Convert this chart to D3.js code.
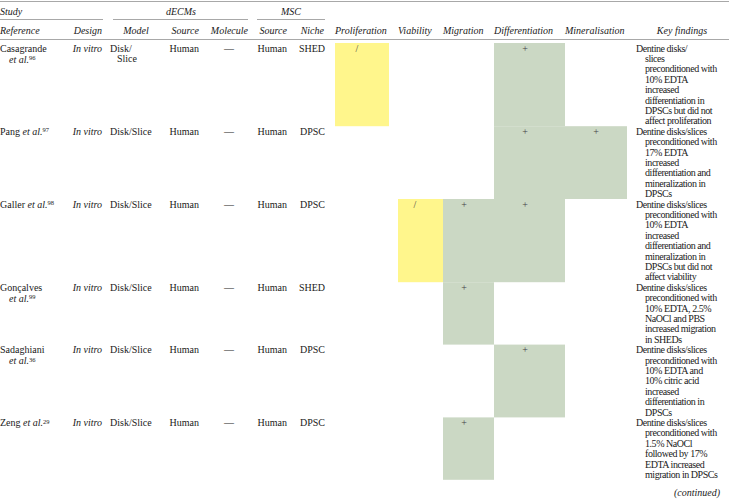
<!DOCTYPE html>
<html>
<head>
<meta charset="utf-8">
<script src="https://cdn.jsdelivr.net/npm/d3@7/dist/d3.min.js"></script>
<style>
  body { margin: 0; background: #fff; }
  svg text { font-family: "Liberation Serif", "Times New Roman", serif; font-size: 10px; fill: #1a1a1a; }
  .it { font-style: italic; }
</style>
</head>
<body>
<div id="chart"></div>
<script>
// table data
var refNames = ['Casagrande', 'Pang', 'Galler', 'Gonçalves', 'Sadaghiani', 'Zeng'],
    refNums = ['96', '97', '98', '99', '36', '29'],
    refWrap = [true, false, false, true, true, false],
    designs = ['In vitro', 'In vitro', 'In vitro', 'In vitro', 'In vitro', 'In vitro'],
    models = [['Disk/', 'Slice'], ['Disk/Slice'], ['Disk/Slice'], ['Disk/Slice'], ['Disk/Slice'], ['Disk/Slice']],
    decmSources = ['Human', 'Human', 'Human', 'Human', 'Human', 'Human'],
    molecules = ['—', '—', '—', '—', '—', '—'],
    mscSources = ['Human', 'Human', 'Human', 'Human', 'Human', 'Human'],
    niches = ['SHED', 'DPSC', 'DPSC', 'SHED', 'DPSC', 'DPSC'];

var outcomeNames = ['Proliferation', 'Viability', 'Migration', 'Differentiation', 'Mineralisation'];
var proliferation = ['/', '', '', '', '', ''],
    viability = ['', '', '/', '', '', ''],
    migration = ['', '', '+', '+', '', '+'],
    differentiation = ['+', '+', '+', '', '+', ''],
    mineralisation = ['', '+', '', '', '', ''];
var outcomes = [proliferation, viability, migration, differentiation, mineralisation];

var findings = [
  ['Dentine disks/', 'slices', 'preconditioned with', '10% EDTA', 'increased', 'differentiation in', 'DPSCs but did not', 'affect proliferation'],
  ['Dentine disks/slices', 'preconditioned with', '17% EDTA', 'increased', 'differentiation and', 'mineralization in', 'DPSCs'],
  ['Dentine disks/slices', 'preconditioned with', '10% EDTA', 'increased', 'differentiation and', 'mineralization in', 'DPSCs but did not', 'affect viability'],
  ['Dentine disks/slices', 'preconditioned with', '10% EDTA, 2.5%', 'NaOCl and PBS', 'increased migration', 'in SHEDs'],
  ['Dentine disks/slices', 'preconditioned with', '10% EDTA and', '10% citric acid', 'increased', 'differentiation in', 'DPSCs'],
  ['Dentine disks/slices', 'preconditioned with', '1.5% NaOCl', 'followed by 17%', 'EDTA increased', 'migration in DPSCs']
];

var width = 729, height = 501,
    lineH = 10.4, tableTop = 43;

// row tops from line counts
var starts = [0];
findings.forEach(function(f, i){ starts.push(starts[i] + f.length); });
var y = d3.scaleLinear().domain([0, starts[starts.length - 1]])
          .range([tableTop, tableTop + starts[starts.length - 1] * lineH]);

// column extents of the coloured outcome cells and their symbol x
var cellX = [[335, 389], [398, 443], [443, 494], [494, 565], [565, 627]],
    symX = [357, 415, 464, 525, 596],
    fills = { '/': '#fff68c', '+': '#cbd8c4' };

var svg = d3.select('#chart').append('svg')
    .attr('width', width)
    .attr('height', height);

// coloured cells
outcomes.forEach(function(col, c){
  var g = svg.append('g'),
      marks = col.map(function(v, i){ return { v: v, i: i }; }).filter(function(d){ return d.v; });
  g.selectAll('rect')
    .data(marks)
    .enter()
    .append('rect')
    .attr('x', cellX[c][0])
    .attr('width', cellX[c][1] - cellX[c][0])
    .attr('y', function(d){ return y(starts[d.i]); })
    .attr('height', function(d){ return y(starts[d.i + 1]) - y(starts[d.i]); })
    .attr('fill', function(d){ return fills[d.v]; });
  g.selectAll('text')
    .data(marks)
    .enter()
    .append('text')
    .attr('x', symX[c])
    .attr('y', function(d){ return y(starts[d.i]) + 8.7; })
    .attr('text-anchor', 'middle')
    .style('fill', '#444')
    .text(function(d){ return d.v; });
});

// rules
function rule(x1, x2, yy){
  svg.append('line').attr('x1', x1).attr('x2', x2).attr('y1', yy).attr('y2', yy)
     .attr('stroke', '#a8a8a8').attr('stroke-width', 1);
}
rule(0, width, 1.5);
rule(0, 103, 19.5);
rule(113, 248, 19.5);
rule(257, 325, 19.5);
rule(0, width, 39.5);

// headers
function txt(x, yy, s, anchor, cls){
  return svg.append('text').attr('x', x).attr('y', yy)
    .attr('text-anchor', anchor || 'start').attr('class', cls || null).text(s);
}
txt(0, 14.5, 'Study', 'start', 'it');
txt(181, 14.5, 'dECMs', 'middle', 'it');
txt(291, 14.5, 'MSC', 'middle', 'it');
var h2 = 33.5;
txt(0, h2, 'Reference', 'start', 'it');
txt(102, h2, 'Design', 'end', 'it');
txt(136, h2, 'Model', 'middle', 'it');
txt(199, h2, 'Source', 'end', 'it');
txt(248, h2, 'Molecule', 'end', 'it');
txt(287, h2, 'Source', 'end', 'it');
txt(324, h2, 'Niche', 'end', 'it');
outcomeNames.forEach(function(n, c){ txt(cellX[c][0], h2, n, 'start', 'it'); });
txt(682, h2, 'Key findings', 'middle', 'it');

// body rows
var rows = svg.selectAll('.row')
  .data(refNames)
  .enter()
  .append('g')
  .attr('class', 'row')
  .attr('transform', function(d, i){ return 'translate(0,' + (y(starts[i]) + 8.7) + ')'; });

rows.each(function(name, i){
  var g = d3.select(this);
  // reference, with superscript citation number
  if (refWrap[i]) {
    g.append('text').attr('x', 0).attr('y', 0).text(name);
    g.append('text').attr('x', 9).attr('y', lineH + 0.6).call(function(s){
      s.append('tspan').attr('class', 'it').text('et al.');
      s.append('tspan').attr('dy', -2.5).style('font-size', '6.5px').text(refNums[i]);
    });
  } else {
    var t = g.append('text').attr('x', 0).attr('y', 0);
    t.append('tspan').text(name + ' ');
    t.append('tspan').attr('class', 'it').text('et al.');
    t.append('tspan').attr('dy', -2.5).style('font-size', '6.5px').text(refNums[i]);
  }
  g.append('text').attr('x', 102).attr('text-anchor', 'end').attr('class', 'it').text(designs[i]);
  g.selectAll('.model').data(models[i]).enter().append('text')
    .attr('x', function(d, k){ return k ? 117 : 110; })
    .attr('y', function(d, k){ return k * lineH; })
    .text(function(d){ return d; });
  g.append('text').attr('x', 199).attr('text-anchor', 'end').text(decmSources[i]);
  g.append('text').attr('x', 229).attr('text-anchor', 'middle').text(molecules[i]);
  g.append('text').attr('x', 287).attr('text-anchor', 'end').text(mscSources[i]);
  g.append('text').attr('x', 325).attr('text-anchor', 'end').text(niches[i]);
  g.selectAll('.kf').data(findings[i]).enter().append('text')
    .attr('class', 'kf')
    .attr('x', function(d, k){ return k ? 645 : 636; })
    .attr('y', function(d, k){ return k * lineH; })
    .style('letter-spacing', '-0.45px')
    .text(function(d){ return d; });
});

txt(720, 496, '(continued)', 'end', 'it');
</script>
</body>
</html>
